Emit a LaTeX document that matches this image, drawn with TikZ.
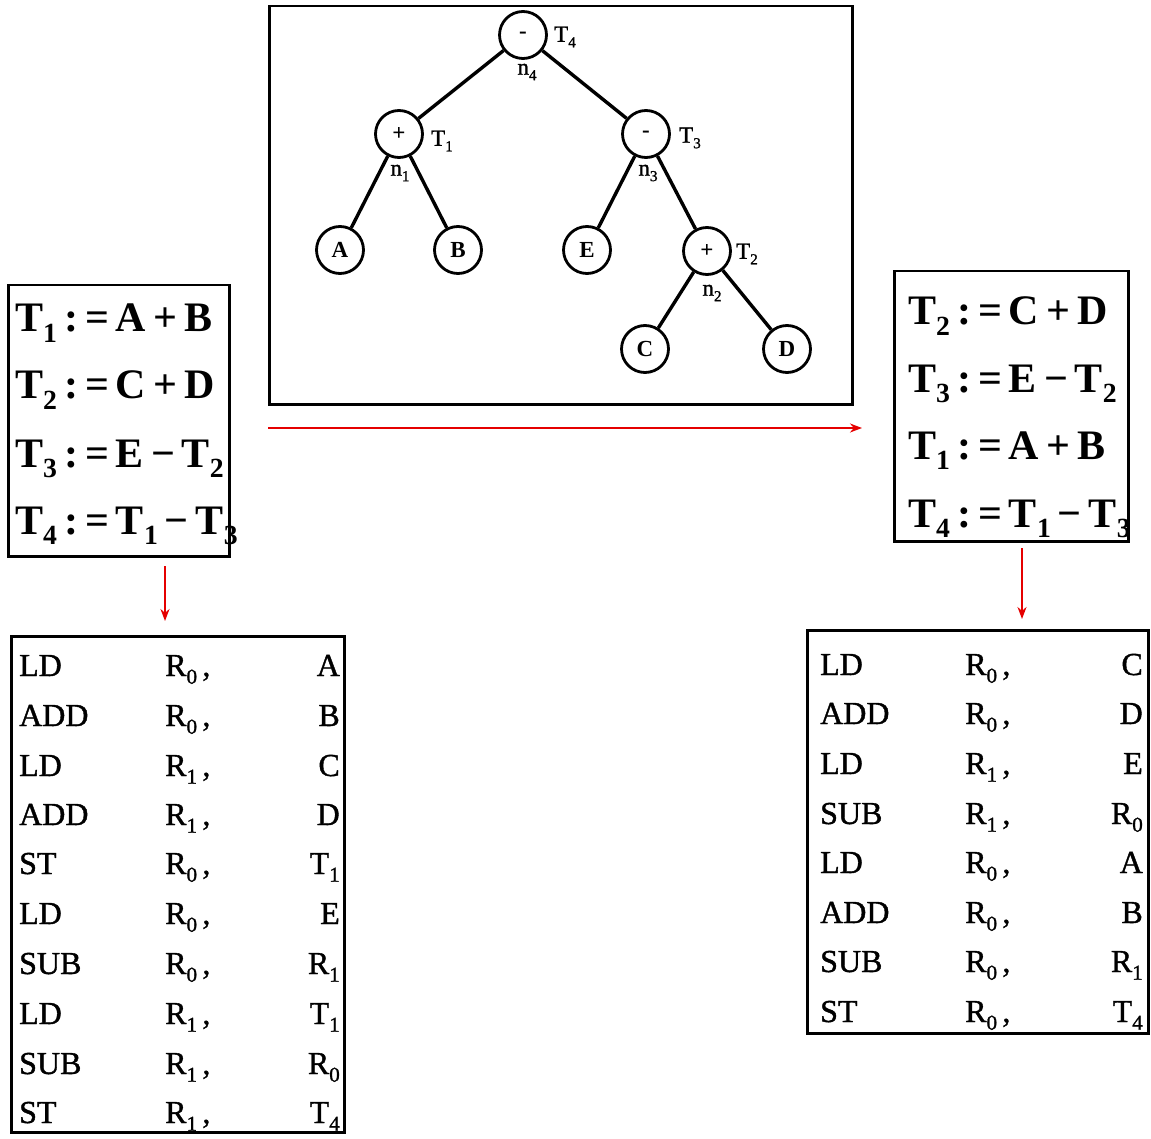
\documentclass[tikz,border=0pt]{standalone}
\usepackage{fontspec}
\usepackage{graphicx}
\setmainfont{Liberation Serif}
\newfontfamily\heavyserif[FakeBold=1.2]{Liberation Serif}
\usetikzlibrary{arrows.meta}
\tikzset{
  tnode/.style={circle,draw,line width=2.8pt,minimum size=47pt,inner sep=0pt,font=\fontsize{23}{23}\selectfont\bfseries},
  tlab/.style={inner sep=0pt,font=\fontsize{23}{23}\selectfont\heavyserif},
  edge/.style={line width=3.4pt},
  frame/.style={draw,line width=2.5pt},
  eq/.style={anchor=base west,inner sep=0pt,font=\fontsize{42}{42}\selectfont\bfseries},
  code/.style={inner sep=0pt,font=\fontsize{32}{32}\selectfont\heavyserif},
  redarrow/.style={draw=red!90!black,line width=2pt,-{Stealth[length=12pt,width=9pt]}}
}
\newcommand{\sbs}[1]{\raisebox{-0.24em}{\scalebox{0.66}{#1}}}
\begin{document}
\begin{tikzpicture}[x=1pt,y=-1pt]
\useasboundingbox (0,0) rectangle (1151,1139);
% tree frame
\node[frame,minimum width=583pt,minimum height=398pt,anchor=north west,inner sep=0pt] (tf) at (268,5) {};
% tree nodes
\node[tnode] (n4) at (523,35) {-};
\node[tnode] (n1) at (399,134) {+};
\node[tnode] (n3) at (646,134) {-};
\node[tnode] (a) at (340,250) {A};
\node[tnode] (b) at (458,250) {B};
\node[tnode] (e) at (587,250) {E};
\node[tnode] (n2) at (707,251) {+};
\node[tnode] (c) at (645,349) {C};
\node[tnode] (d) at (787,349) {D};
\draw[edge] (n4) -- (n1);
\draw[edge] (n4) -- (n3);
\draw[edge] (n1) -- (a);
\draw[edge] (n1) -- (b);
\draw[edge] (n3) -- (e);
\draw[edge] (n3) -- (n2);
\draw[edge] (n2) -- (c);
\draw[edge] (n2) -- (d);
% labels
\node[tlab] (lt4) at (565,37) {T\sbs{4}};
\node[tlab] (ln4) at (527,72) {n\sbs{4}};
\node[tlab] (lt1) at (442,141) {T\sbs{1}};
\node[tlab] (ln1) at (400,173) {n\sbs{1}};
\node[tlab] (lt3) at (690,138) {T\sbs{3}};
\node[tlab] (ln3) at (648,173) {n\sbs{3}};
\node[tlab] (lt2) at (747,254) {T\sbs{2}};
\node[tlab] (ln2) at (712,293) {n\sbs{2}};
% left equation box
\node[frame,minimum width=221pt,minimum height=271pt,anchor=north west,inner sep=0pt] (lb) at (7,284) {};
\node[eq] (l1) at (15,332) {T\sbs{1}\,:\,=\,A\,+\,B};
\node[eq] (l2) at (15,399) {T\sbs{2}\,:\,=\,C\,+\,D};
\node[eq] (l3) at (15,467) {T\sbs{3}\,:\,=\,E\,−\,T\sbs{2}};
\node[eq] (l4) at (15,534) {T\sbs{4}\,:\,=\,T\sbs{1}\,−\,T\sbs{3}};
% right equation box
\node[frame,minimum width=234pt,minimum height=270pt,anchor=north west,inner sep=0pt] (rb) at (893,270) {};
\node[eq] (r1) at (908,325) {T\sbs{2}\,:\,=\,C\,+\,D};
\node[eq] (r2) at (908,392) {T\sbs{3}\,:\,=\,E\,−\,T\sbs{2}};
\node[eq] (r3) at (908,459) {T\sbs{1}\,:\,=\,A\,+\,B};
\node[eq] (r4) at (908,527) {T\sbs{4}\,:\,=\,T\sbs{1}\,−\,T\sbs{3}};
% arrows
\coordinate (hs) at (268,428);
\coordinate (he) at (862,428);
\draw[redarrow] (hs) -- (he);
\coordinate (ls) at (165,566);
\coordinate (le) at (165,621);
\draw[redarrow] (ls) -- (le);
\coordinate (rs) at (1022,548);
\coordinate (re) at (1022,619);
\draw[redarrow] (rs) -- (re);
% left code box
\node[frame,minimum width=333pt,minimum height=496pt,anchor=north west,inner sep=0pt] (lc) at (10,635) {};
\foreach \i/\op/\rg/\ar [count=\k] in {
  676/LD/R\sbs{0}/A, 726/ADD/R\sbs{0}/B, 776/LD/R\sbs{1}/C, 825/ADD/R\sbs{1}/D,
  874/ST/R\sbs{0}/T\sbs{1}, 924/LD/R\sbs{0}/E, 974/SUB/R\sbs{0}/R\sbs{1},
  1024/LD/R\sbs{1}/T\sbs{1}, 1074/SUB/R\sbs{1}/R\sbs{0}, 1123/ST/R\sbs{1}/T\sbs{4}} {
  \node[code,anchor=base west] (lo\k) at (19,\i) {\op};
  \node[code,anchor=base west] (lr\k) at (165,\i) {\rg\,,};
  \node[code,anchor=base east] (la\k) at (340,\i) {\ar};
}
% right code box
\node[frame,minimum width=341pt,minimum height=403pt,anchor=north west,inner sep=0pt] (rc) at (806,629) {};
\foreach \i/\op/\rg/\ar [count=\k] in {
  675/LD/R\sbs{0}/C, 724/ADD/R\sbs{0}/D, 774/LD/R\sbs{1}/E, 824/SUB/R\sbs{1}/R\sbs{0},
  873/LD/R\sbs{0}/A, 923/ADD/R\sbs{0}/B, 972/SUB/R\sbs{0}/R\sbs{1}, 1022/ST/R\sbs{0}/T\sbs{4}} {
  \node[code,anchor=base west] (ro\k) at (820,\i) {\op};
  \node[code,anchor=base west] (rr\k) at (965,\i) {\rg\,,};
  \node[code,anchor=base east] (ra\k) at (1143,\i) {\ar};
}
\end{tikzpicture}
\end{document}
